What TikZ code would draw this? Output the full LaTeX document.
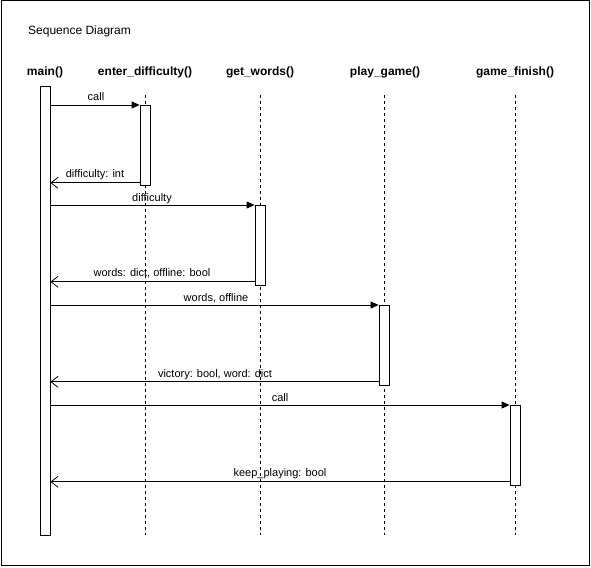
\documentclass[tikz,border=0pt]{standalone}
\usepackage{fontspec}
\setmainfont{Liberation Sans}
\usetikzlibrary{arrows.meta}
\begin{document}
\begin{tikzpicture}[x=1pt,y=-1pt,
  head/.style={font=\fontsize{12}{14}\selectfont\bfseries, inner sep=0pt},
  lbl/.style={font=\fontsize{11}{13}\selectfont, inner sep=0pt, anchor=base},
  act/.style={draw, fill=white, line width=0.8pt, minimum width=10pt, inner sep=0pt},
  life/.style={line width=0.8pt, dash pattern=on 3pt off 3pt},
  callmsg/.style={line width=0.8pt, -{Triangle[length=8pt,width=7pt]}},
  retmsg/.style={line width=0.8pt, -{Straight Barb[length=7pt,width=11pt]}}
]
\useasboundingbox (0,0) rectangle (591,567);
\draw[line width=1pt] (1,1) rectangle (589.5,565.5);
\node[anchor=base west, font=\fontsize{12}{14}\selectfont, inner sep=0pt] (title) at (28,35) {Sequence Diagram};

% headers
\node[head] (hmain) at (45,72) {main()};
\node[head] (hed) at (145,72) {enter\_difficulty()};
\node[head] (hgw) at (260,72) {get\_words()};
\node[head] (hpg) at (385,72) {play\_game()};
\node[head] (hgf) at (515,72) {game\_finish()};

% lifeline ends
\coordinate (edtop) at (145,95); \coordinate (edbot) at (145,535);
\coordinate (gwtop) at (260,95); \coordinate (gwbot) at (260,535);
\coordinate (pgtop) at (384,95); \coordinate (pgbot) at (384,535);
\coordinate (gftop) at (515,95); \coordinate (gfbot) at (515,535);
\draw[life] (edtop) -- (edbot);
\draw[life] (gwtop) -- (gwbot);
\draw[life] (pgtop) -- (pgbot);
\draw[life] (gftop) -- (gfbot);

% activations
\node[act, minimum height=449pt, anchor=north] (main) at (45,86) {};
\node[act, minimum height=80pt, anchor=north] (ed) at (145,105) {};
\node[act, minimum height=80pt, anchor=north] (gw) at (260,205) {};
\node[act, minimum height=80pt, anchor=north] (pg) at (384,305) {};
\node[act, minimum height=80pt, anchor=north] (gf) at (515,405) {};

% return points
\coordinate (r1) at ([yshift=3pt]ed.south west);
\coordinate (r2) at ([yshift=4pt]gw.south west);
\coordinate (r3) at ([yshift=4pt]pg.south west);
\coordinate (r4) at ([yshift=4pt]gf.south west);

% messages
\draw[callmsg] (main.east |- ed.north) -- (ed.north west);
\node[lbl] (l1) at (96,101) {call};
\draw[retmsg] (r1) -- (main.east |- r1);
\node[lbl] (l2) at (95,177) {difficulty: int};

\draw[callmsg] (main.east |- gw.north) -- (gw.north west);
\node[lbl] (l3) at (152,201) {difficulty};
\draw[retmsg] (r2) -- (main.east |- r2);
\node[lbl] (l4) at (152,276) {words: dict, offline: bool};

\draw[callmsg] (main.east |- pg.north) -- (pg.north west);
\node[lbl] (l5) at (216,301) {words, offline};
\draw[retmsg] (r3) -- (main.east |- r3);
\node[lbl] (l6) at (215,377) {victory: bool, word: dict};

\draw[callmsg] (main.east |- gf.north) -- (gf.north west);
\node[lbl] (l7) at (280,401) {call};
\draw[retmsg] (r4) -- (main.east |- r4);
\node[lbl] (l8) at (280,476) {keep\_playing: bool};
\end{tikzpicture}
\end{document}
